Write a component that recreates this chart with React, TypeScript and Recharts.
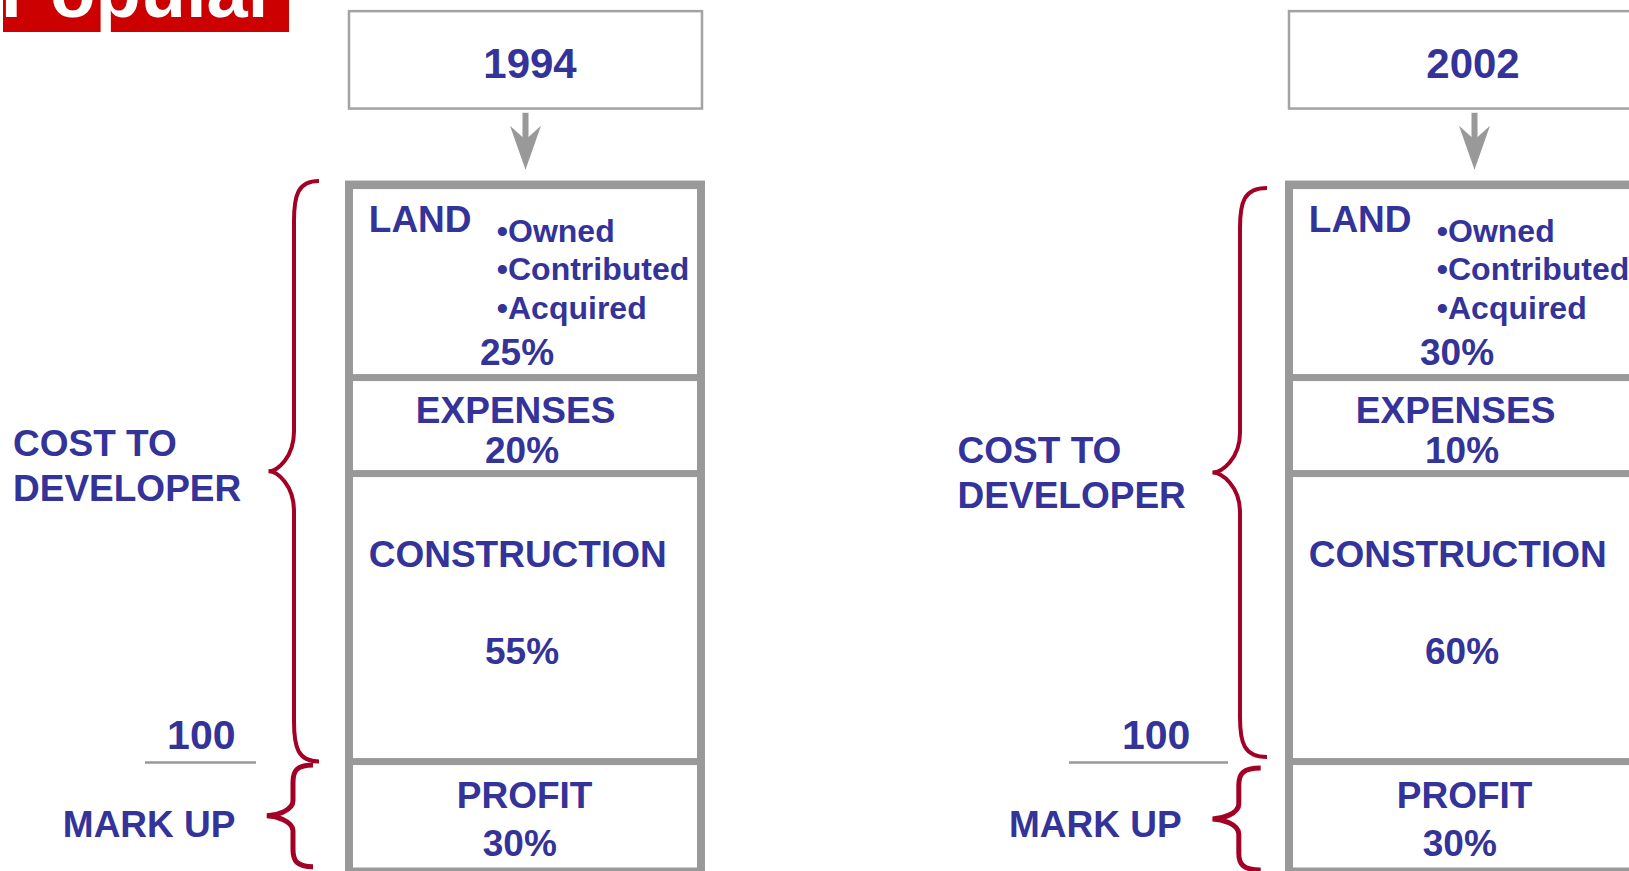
import React from 'react';
import { BarChart, Bar, XAxis, YAxis } from 'recharts';

// ---------- data ----------
const YEARS = ['1994', '2002'];
const LAND_PCT = [25, 30];
const EXPENSES_PCT = [20, 10];
const CONSTRUCTION_PCT = [55, 60];
const PROFIT_PCT = [30, 30];
const SEGMENT_LABELS = { land: 'LAND', expenses: 'EXPENSES', construction: 'CONSTRUCTION', profit: 'PROFIT' };
const LAND_SOURCES = ['•Owned', '•Contributed', '•Acquired'];
const COST_LABEL = ['COST TO', 'DEVELOPER'];
const BASE_LABEL = '100';
const MARKUP_LABEL = 'MARK UP';
const LOGO_TEXT = 'Popular';

// ---------- layout (relative row heights of the diagram, not the percentages) ----------
const ROW_SPAN = { profit: 1.14, construction: 3, expenses: 1, land: 2, gap: 0.8, year: 1.02 };

// per-column placement of the side annotations, relative to the box
const COLUMN_LAYOUT = [
  { arrowX: 180.5, yearX: 185, costX: -332, costY: -17.6, bEnd: -26, bV: -51, bTip: -76.5, bTop: -4.5, bBot: 0,
    baseRight: -109.5, lineL: -200, lineR: -89, markRight: -109.5, sEnd: -32, sV: -52, sTip: -78.3, sTop: 3.4, sBot: -4.3 },
  { arrowX: 189.5, yearX: 188, costX: -327.4, costY: -10.6, bEnd: -18, bV: -45, bTip: -72.6, bTop: 2.4, bBot: -4.5,
    baseRight: -94.6, lineL: -216, lineR: -57, markRight: -103.3, sEnd: -24.3, sV: -46.2, sTip: -72.6, sTop: 6.4, sBot: -1 },
];

const FONT = '"Liberation Sans", Arial, Helvetica, sans-serif';
const BLUE = '#333399';
const GRAY = '#999999';
const BRACE = '#a30026';

const table = YEARS.map((year, i) => ({
  year,
  landPct: LAND_PCT[i],
  expensesPct: EXPENSES_PCT[i],
  constructionPct: CONSTRUCTION_PCT[i],
  profitPct: PROFIT_PCT[i],
  profit: ROW_SPAN.profit,
  construction: ROW_SPAN.construction,
  expenses: ROW_SPAN.expenses,
  land: ROW_SPAN.land,
  gap: ROW_SPAN.gap,
  yearBox: ROW_SPAN.year,
}));

const T = ({ x, y, size, anchor = 'start', fill = BLUE, children }: any) => (
  <text x={x} y={y} fontSize={size} fontFamily={FONT} fontWeight="bold" fill={fill} textAnchor={anchor}>
    {children}
  </text>
);

const Section = ({ x, y, w, h, top }: any) => (
  <g>
    <rect x={x} y={top ? y - 5 : y - 0.5} width={w} height={top ? h + 5.5 : h + 1} fill={GRAY} />
    <rect x={x + 8} y={y + 3.5} width={w - 16} height={h - 7} fill="#ffffff" />
  </g>
);

function bracePath(xe: number, xv: number, xt: number, top: number, bottom: number, rEnd: number, rTip: number) {
  const mid = (top + bottom) / 2;
  const k = (xv - xt) * 0.35;
  return [
    `M${xe},${top}`,
    `C${xv + 4},${top} ${xv},${top + rEnd * 0.35} ${xv},${top + rEnd}`,
    `L${xv},${mid - rTip}`,
    `C${xv},${mid - rTip * 0.35} ${xt + k},${mid} ${xt},${mid}`,
    `C${xt + k},${mid} ${xv},${mid + rTip * 0.35} ${xv},${mid + rTip}`,
    `L${xv},${bottom - rEnd}`,
    `C${xv},${bottom - rEnd * 0.35} ${xv + 4},${bottom} ${xe},${bottom}`,
  ].join(' ');
}

const YearShape = (p: any) => {
  const { x, y, height: h, payload, index } = p;
  const L = COLUMN_LAYOUT[index] || COLUMN_LAYOUT[0];
  return (
    <g>
      <rect x={x + 4} y={y + 0.3} width={353} height={h - 0.5} fill="#ffffff" stroke="#a3a3a3" strokeWidth={2.5} />
      <T x={x + L.yearX} y={y + 67.2} size={42} anchor="middle">{payload.year}</T>
    </g>
  );
};

const GapShape = (p: any) => {
  const { x, y, index } = p;
  const L = COLUMN_LAYOUT[index] || COLUMN_LAYOUT[0];
  const cx = x + L.arrowX;
  return (
    <g fill={GRAY}>
      <rect x={cx - 3} y={y + 4} width={6} height={30} />
      <polygon points={`${cx - 15.5},${y + 17} ${cx},${y + 61} ${cx + 15.5},${y + 17} ${cx},${y + 31}`} />
    </g>
  );
};

const LandShape = (p: any) => {
  const { x, y, width: w, height: h, payload } = p;
  return (
    <g>
      <Section x={x} y={y} w={w} h={h} top />
      <T x={x + 23.8} y={y + 46.8} size={37}>{SEGMENT_LABELS.land}</T>
      {LAND_SOURCES.map((s, k) => (
        <T key={s} x={x + 151.8} y={y + 56.2 + k * 38.6} size={32}>{s}</T>
      ))}
      <T x={x + 172} y={y + 179.2} size={37} anchor="middle">{payload.landPct}%</T>
    </g>
  );
};

const ExpensesShape = (p: any) => {
  const { x, y, width: w, height: h, payload } = p;
  return (
    <g>
      <Section x={x} y={y} w={w} h={h} />
      <T x={x + 170.6} y={y + 45.7} size={37} anchor="middle">{SEGMENT_LABELS.expenses}</T>
      <T x={x + 177} y={y + 85} size={37} anchor="middle">{payload.expensesPct}%</T>
    </g>
  );
};

const ConstructionShape = (p: any) => {
  const { x, y, width: w, height: h, payload, index } = p;
  const L = COLUMN_LAYOUT[index] || COLUMN_LAYOUT[0];
  const groupTop = y - (h * (ROW_SPAN.expenses + ROW_SPAN.land)) / ROW_SPAN.construction;
  const top = groupTop + L.bTop;
  const bottom = y + h + L.bBot;
  return (
    <g>
      <Section x={x} y={y} w={w} h={h} />
      <T x={x + 172.7} y={y + 93.2} size={37} anchor="middle">{SEGMENT_LABELS.construction}</T>
      <T x={x + 177} y={y + 190} size={37} anchor="middle">{payload.constructionPct}%</T>
      <path d={bracePath(x + L.bEnd, x + L.bV, x + L.bTip, top, bottom, 40, 40)} fill="none" stroke={BRACE} strokeWidth={4} />
      <T x={x + L.costX} y={y + L.costY} size={37}>{COST_LABEL[0]}</T>
      <T x={x + L.costX} y={y + L.costY + 45} size={37}>{COST_LABEL[1]}</T>
      <T x={x + L.baseRight} y={y + h - 12.6} size={41} anchor="end">{BASE_LABEL}</T>
      <line x1={x + L.lineL} x2={x + L.lineR} y1={y + h + 1} y2={y + h + 1} stroke={GRAY} strokeWidth={2.5} />
    </g>
  );
};

const ProfitShape = (p: any) => {
  const { x, y, width: w, height: h, payload, index } = p;
  const L = COLUMN_LAYOUT[index] || COLUMN_LAYOUT[0];
  return (
    <g>
      <Section x={x} y={y} w={w} h={h} />
      <T x={x + 179.6} y={y + 46} size={37} anchor="middle">{SEGMENT_LABELS.profit}</T>
      <T x={x + 174.8} y={y + 94} size={37} anchor="middle">{payload.profitPct}%</T>
      <path d={bracePath(x + L.sEnd, x + L.sV, x + L.sTip, y + L.sTop, y + h + L.sBot, 17, 15)} fill="none" stroke={BRACE} strokeWidth={5} />
      <T x={x + L.markRight} y={y + 75} size={37} anchor="end">{MARKUP_LABEL}</T>
    </g>
  );
};

export default function App() {
  return (
    <div style={{ position: 'absolute', left: 0, top: 0, width: 1629, height: 871, overflow: 'hidden', background: '#ffffff' }}>
      <div style={{ position: 'absolute', left: 0, top: -89 }}>
        <BarChart width={1935} height={960} data={table} margin={{ top: 0, right: 0, bottom: 0, left: 55 }} barGap={0} barCategoryGap={0}>
          <XAxis dataKey="year" hide />
          <YAxis hide type="number" domain={[0, 10]} />
          <Bar dataKey="profit" stackId="s" barSize={360} isAnimationActive={false} shape={ProfitShape} />
          <Bar dataKey="construction" stackId="s" barSize={360} isAnimationActive={false} shape={ConstructionShape} />
          <Bar dataKey="expenses" stackId="s" barSize={360} isAnimationActive={false} shape={ExpensesShape} />
          <Bar dataKey="land" stackId="s" barSize={360} isAnimationActive={false} shape={LandShape} />
          <Bar dataKey="gap" stackId="s" barSize={360} isAnimationActive={false} shape={GapShape} />
          <Bar dataKey="yearBox" stackId="s" barSize={360} isAnimationActive={false} shape={YearShape} />
        </BarChart>
      </div>
      <svg width={300} height={40} style={{ position: 'absolute', left: 0, top: 0 }}>
        <rect x={3} y={0} width={286} height={32} fill="#cc0000" />
        <text x={1} y={17} fontSize={74} fontFamily={FONT} fontWeight="bold" fill="#ffffff">{LOGO_TEXT}</text>
      </svg>
    </div>
  );
}
